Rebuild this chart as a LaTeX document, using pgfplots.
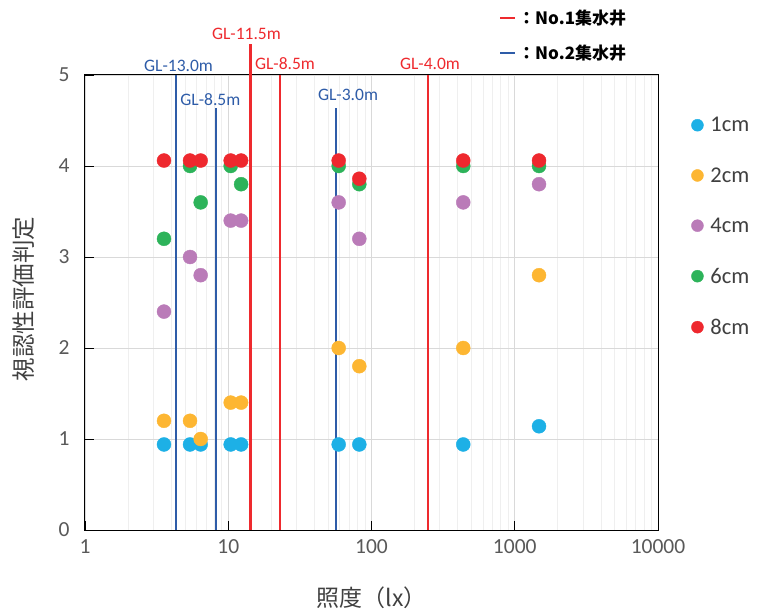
\documentclass[border=0pt]{standalone}
\usepackage{pgfplots}
\pgfplotsset{compat=1.18}
\usepackage{fontspec}
\setmainfont{Carlito}
\newfontfamily\cjk{Noto Sans CJK JP}
\definecolor{c1}{HTML}{1DB0E6}
\definecolor{c2}{HTML}{FDB632}
\definecolor{c4}{HTML}{BA7BB8}
\definecolor{c6}{HTML}{2DB35A}
\definecolor{c8}{HTML}{EE282E}
\definecolor{lred}{HTML}{EE2A2E}
\definecolor{lblue}{HTML}{2E5CA8}
\definecolor{gridmajor}{HTML}{D9D9D9}
\definecolor{gridminor}{HTML}{EFEFEF}
\definecolor{tickgray}{HTML}{595959}
\definecolor{labgray}{HTML}{404040}
\begin{document}
\begin{tikzpicture}
\path[use as bounding box] (-85bp,-80bp) rectangle (674bp,530bp);
\begin{axis}[
  at={(0,0)}, anchor=south west,
  scale only axis, width=573bp, height=455bp,
  xmode=log, xmin=1, xmax=10000, ymin=0, ymax=5,
  xtick={1,10,100,1000,10000}, xticklabels={1,10,100,1000,10000},
  minor xtick={2,3,4,5,6,7,8,9,20,30,40,50,60,70,80,90,200,300,400,500,600,700,800,900,2000,3000,4000,5000,6000,7000,8000,9000},
  ytick={0,1,2,3,4,5},
  xmajorgrids, xminorgrids, ymajorgrids,
  major grid style={draw=gridmajor, line width=0.9bp},
  minor grid style={draw=gridminor, line width=0.9bp},
  tick align=inside, tick pos=left,
  major tick length=9bp, minor tick length=0bp,
  major tick style={black, line width=0.9bp},
  axis line style={black, line width=1bp},
  ticklabel style={font=\fontsize{21.5bp}{25bp}\selectfont, text=tickgray},
  xticklabel style={yshift=-6bp},
  yticklabel style={xshift=-12bp},
  /pgf/number format/assume math mode=true,
  xlabel={\cjk 照度（lx）},
  ylabel={\cjk 視認性評価判定},
  xlabel style={at={(axis description cs:0.5,-0.15)}, anchor=center, font=\fontsize{23bp}{26bp}\selectfont, text=labgray},
  ylabel style={at={(axis description cs:-0.1065,0.508)}, anchor=center, font=\fontsize{23.5bp}{27bp}\selectfont, text=labgray},
  clip=false,
  legend style={draw=none, fill=none, at={(axis description cs:1.058,0.912)}, anchor=north west,
    font=\fontsize{22.5bp}{25bp}\selectfont, text=labgray, row sep=30.2bp, inner sep=0pt, nodes={inner sep=2bp},
    /tikz/every odd column/.append style={column sep=5bp}},
  legend cell align=left,
  legend image code/.code={\draw[#1, mark size=6bp] plot coordinates {(0bp,0bp)};},
  every axis plot/.append style={only marks, mark=*, mark size=7bp},
]
\addplot[c1, mark options={draw=c1, fill=c1}] coordinates {
(3.56,0.94) (5.41,0.94) (6.42,0.94) (10.4,0.94) (12.3,0.94) (59,0.94) (82.2,0.94) (437,0.94) (1477,1.14)};
\addlegendentry{1cm}
\addplot[c2, mark options={draw=c2, fill=c2}] coordinates {
(3.56,1.2) (5.41,1.2) (6.42,1.0) (10.4,1.4) (12.3,1.4) (59,2.0) (82.2,1.8) (437,2.0) (1477,2.8)};
\addlegendentry{2cm}
\addplot[c4, mark options={draw=c4, fill=c4}] coordinates {
(3.56,2.4) (5.41,3.0) (6.42,2.8) (10.4,3.4) (12.3,3.4) (59,3.6) (82.2,3.2) (437,3.6) (1477,3.8)};
\addlegendentry{4cm}
\addplot[c6, mark options={draw=c6, fill=c6}] coordinates {
(3.56,3.2) (5.41,4.0) (6.42,3.6) (10.4,4.0) (12.3,3.8) (59,4.0) (82.2,3.8) (437,4.0) (1477,4.0)};
\addlegendentry{6cm}
\addplot[c8, mark options={draw=c8, fill=c8}] coordinates {
(3.56,4.06) (5.41,4.06) (6.42,4.06) (10.4,4.06) (12.3,4.06) (59,4.06) (82.2,3.86) (437,4.06) (1477,4.06)};
\addlegendentry{8cm}
% vertical lines
\addplot[lblue, line width=2.2bp, no marks, sharp plot, forget plot] coordinates {(4.30,0) (4.30,5)};
\addplot[lblue, line width=2.2bp, no marks, sharp plot, forget plot] coordinates {(8.17,0) (8.17,4.64)};
\addplot[lblue, line width=2.2bp, no marks, sharp plot, forget plot] coordinates {(56.2,0) (56.2,4.64)};
\addplot[lred, line width=2.2bp, no marks, sharp plot, forget plot] coordinates {(14.3,0) (14.3,5.34)};
\addplot[lred, line width=2.2bp, no marks, sharp plot, forget plot] coordinates {(22.9,0) (22.9,5)};
\addplot[lred, line width=2.2bp, no marks, sharp plot, forget plot] coordinates {(247,0) (247,5)};
% labels
\node[anchor=base, text=lred, font=\fontsize{17.5bp}{20bp}\selectfont] at (axis cs:13.4,5.395) {GL-11.5m};
\node[anchor=base, text=lred, font=\fontsize{17.5bp}{20bp}\selectfont] at (axis cs:24.9,5.055) {GL-8.5m};
\node[anchor=base, text=lred, font=\fontsize{17.5bp}{20bp}\selectfont] at (axis cs:256,5.055) {GL-4.0m};
\node[anchor=base, text=lblue, font=\fontsize{17.5bp}{20bp}\selectfont] at (axis cs:4.5,5.035) {GL-13.0m};
\node[anchor=base, text=lblue, font=\fontsize{17.5bp}{20bp}\selectfont] at (axis cs:7.5,4.66) {GL-8.5m};
\node[anchor=base, text=lblue, font=\fontsize{17.5bp}{20bp}\selectfont] at (axis cs:68.6,4.715) {GL-3.0m};
\node[anchor=west, inner sep=0pt, font=\fontsize{17bp}{20bp}\selectfont] at (axis cs:789,5.63) {\textcolor{lred}{\rule[0.3em]{15bp}{2bp}}\hspace{3bp}{\cjk\bfseries ：No.1集水井}};
\node[anchor=west, inner sep=0pt, font=\fontsize{17bp}{20bp}\selectfont] at (axis cs:789,5.245) {\textcolor{lblue}{\rule[0.3em]{15bp}{2bp}}\hspace{3bp}{\cjk\bfseries ：No.2集水井}};
\end{axis}
\end{tikzpicture}
\end{document}
